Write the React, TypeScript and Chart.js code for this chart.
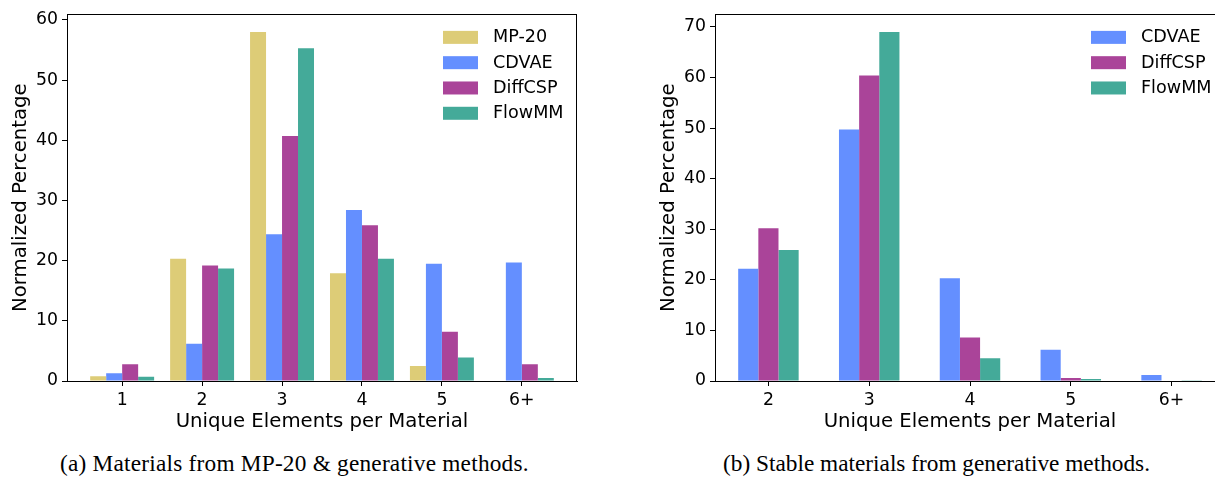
import React, { useEffect, useRef } from "react";
import { Chart, registerables } from "chart.js";

Chart.register(...registerables);

// ---------- data ----------
const leftCategories = ["1", "2", "3", "4", "5", "6+"];
const leftMP20 = [0.8, 20.3, 58.0, 17.9, 2.5, 0];
const leftCDVAE = [1.3, 6.2, 24.4, 28.4, 19.5, 19.7];
const leftDiffCSP = [2.8, 19.2, 40.7, 25.9, 8.2, 2.8];
const leftFlowMM = [0.7, 18.7, 55.3, 20.3, 3.9, 0.5];
const leftYTicks = [0, 10, 20, 30, 40, 50, 60];

const rightCategories = ["2", "3", "4", "5", "6+"];
const rightCDVAE = [22.2, 49.7, 20.3, 6.2, 1.2];
const rightDiffCSP = [30.2, 60.4, 8.6, 0.6, 0.1];
const rightFlowMM = [25.9, 69.0, 4.5, 0.4, 0.05];
const rightYTicks = [0, 10, 20, 30, 40, 50, 60, 70];

const seriesNames = ["MP-20", "CDVAE", "DiffCSP", "FlowMM"];
const seriesColors = ["#DDCC77", "#648FFF", "#AA4499", "#44AA99"];

const xTitle = "Unique Elements per Material";
const yTitle = "Normalized Percentage";
const captionA = "(a) Materials from MP-20 & generative methods.";
const captionB = "(b) Stable materials from generative methods.";

const FONT = "'DejaVu Sans', sans-serif";
const TICK_SIZE = 17.3;
const LEGEND_SIZE = 17.6;
const TITLE_SIZE = 19.7;

type Series = { label: string; data: number[]; color: string };

const framePlugin = {
  id: "frame",
  afterDraw(chart: any) {
    const { ctx, chartArea } = chart;
    const { left, right, top, bottom } = chartArea;
    ctx.save();
    ctx.strokeStyle = "#000";
    ctx.lineWidth = 1;
    ctx.beginPath();
    const t = Math.round(top) + 0.5;
    const r = Math.round(right) - 0.5;
    ctx.moveTo(Math.round(left), t);
    ctx.lineTo(Math.round(right), t);
    ctx.moveTo(r, Math.round(top));
    ctx.lineTo(r, Math.round(bottom));
    ctx.stroke();
    ctx.restore();
  },
};

const legendPlugin = {
  id: "customLegend",
  afterDraw(chart: any) {
    const { ctx, chartArea } = chart;
    const boxX = chartArea.left + 376;
    const firstY = chartArea.top + 23;
    const step = 25.3;
    ctx.save();
    ctx.font = `${LEGEND_SIZE}px ${FONT}`;
    ctx.textBaseline = "middle";
    ctx.textAlign = "left";
    chart.data.datasets.forEach((ds: any, i: number) => {
      const cy = firstY + i * step;
      ctx.fillStyle = ds.backgroundColor;
      ctx.fillRect(boxX, cy - 6.5, 35, 13);
      ctx.fillStyle = "#000";
      ctx.fillText(ds.label, boxX + 50, cy + 0.5);
    });
    ctx.restore();
  },
};

function makeConfig(
  categories: string[],
  series: Series[],
  yMax: number,
  yTicks: number[],
  xMin: number,
  xMax: number,
  groupFrac: number
): any {
  return {
    type: "bar",
    data: {
      datasets: series.map((s) => ({
        label: s.label,
        data: s.data.map((v, i) => ({ x: i, y: v })),
        backgroundColor: s.color,
        borderWidth: 0,
        categoryPercentage: groupFrac,
        barPercentage: 1,
      })),
    },
    plugins: [framePlugin, legendPlugin],
    options: {
      animation: false,
      responsive: false,
      maintainAspectRatio: false,
      devicePixelRatio: 1,
      layout: { padding: { top: 9, right: 23, left: 0, bottom: 0 } },
      plugins: { legend: { display: false }, tooltip: { enabled: false } },
      scales: {
        x: {
          type: "linear",
          min: xMin,
          max: xMax,
          offset: false,
          grid: {
            display: true,
            drawOnChartArea: false,
            drawTicks: true,
            tickLength: 5,
            tickColor: "#000",
            offset: false,
            lineWidth: 1,
          },
          border: { display: true, color: "#000", width: 1 },
          ticks: {
            font: { family: FONT, size: TICK_SIZE },
            color: "#000",
            padding: 4,
            autoSkip: false,
            maxRotation: 0,
            callback: (v: any) => categories[Math.round(Number(v))] ?? "",
          },
          afterBuildTicks: (axis: any) => {
            axis.ticks = categories.map((_, i) => ({ value: i }));
          },
          afterFit: (axis: any) => {
            axis.height = 59;
          },
          title: {
            display: true,
            text: xTitle,
            font: { family: FONT, size: TITLE_SIZE },
            color: "#000",
            padding: { top: 0, bottom: 6 },
          },
        },
        y: {
          type: "linear",
          min: 0,
          max: yMax,
          grid: {
            display: true,
            drawOnChartArea: false,
            drawTicks: true,
            tickLength: 5,
            tickColor: "#000",
            lineWidth: 1,
          },
          border: { display: true, color: "#000", width: 1 },
          ticks: {
            font: { family: FONT, size: TICK_SIZE },
            color: "#000",
            padding: 4,
            autoSkip: false,
          },
          afterBuildTicks: (axis: any) => {
            axis.ticks = yTicks.map((v) => ({ value: v }));
          },
          afterFit: (axis: any) => {
            axis.width = 67;
          },
          title: {
            display: true,
            text: yTitle,
            font: { family: FONT, size: TITLE_SIZE },
            color: "#000",
            padding: { top: 9, bottom: 0 },
          },
        },
      },
    },
  };
}

export default function App() {
  const leftRef = useRef<HTMLCanvasElement | null>(null);
  const rightRef = useRef<HTMLCanvasElement | null>(null);

  useEffect(() => {
    const leftSeries: Series[] = [
      { label: seriesNames[0], data: leftMP20, color: seriesColors[0] },
      { label: seriesNames[1], data: leftCDVAE, color: seriesColors[1] },
      { label: seriesNames[2], data: leftDiffCSP, color: seriesColors[2] },
      { label: seriesNames[3], data: leftFlowMM, color: seriesColors[3] },
    ];
    const rightSeries: Series[] = [
      { label: seriesNames[1], data: rightCDVAE, color: seriesColors[1] },
      { label: seriesNames[2], data: rightDiffCSP, color: seriesColors[2] },
      { label: seriesNames[3], data: rightFlowMM, color: seriesColors[3] },
    ];
    const c1 = new Chart(
      leftRef.current as HTMLCanvasElement,
      makeConfig(leftCategories, leftSeries, 60.93, leftYTicks, -0.69, 5.69, 0.8)
    );
    const c2 = new Chart(
      rightRef.current as HTMLCanvasElement,
      makeConfig(rightCategories, rightSeries, 72.46, rightYTicks, -0.53, 4.53, 0.6)
    );
    return () => {
      c1.destroy();
      c2.destroy();
    };
  }, []);

  const captionStyle: React.CSSProperties = {
    position: "absolute",
    top: 452,
    fontFamily: "'Liberation Serif', 'Times New Roman', serif",
    fontSize: 23.3,
    lineHeight: "23.3px",
    whiteSpace: "nowrap",
    color: "#000",
  };

  return (
    <div
      style={{
        position: "fixed",
        left: 0,
        top: 0,
        width: 1215,
        height: 478,
        overflow: "hidden",
        background: "#fff",
      }}
    >
      <canvas
        ref={leftRef}
        width={600}
        height={440}
        style={{ position: "absolute", left: 0, top: 0, width: 600, height: 440 }}
      />
      <canvas
        ref={rightRef}
        width={600}
        height={440}
        style={{ position: "absolute", left: 648, top: 0, width: 600, height: 440 }}
      />
      <div style={{ ...captionStyle, left: 60, letterSpacing: "0.22px" }}>{captionA}</div>
      <div style={{ ...captionStyle, left: 723 }}>{captionB}</div>
    </div>
  );
}
